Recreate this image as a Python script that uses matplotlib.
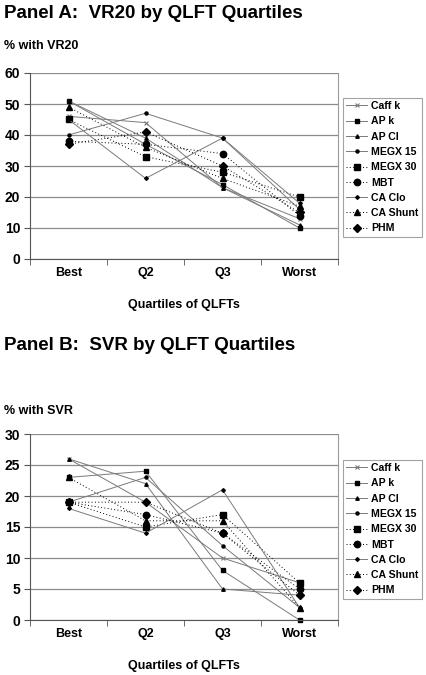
import matplotlib
matplotlib.use("Agg")
import matplotlib.pyplot as plt
from matplotlib.ticker import MultipleLocator, FixedLocator

plt.rcParams['font.family'] = ['Liberation Sans', 'DejaVu Sans']
plt.rcParams['font.weight'] = 'bold'

categories = ["Best", "Q2", "Q3", "Worst"]
series_names = ["Caff k", "AP k", "AP Cl", "MEGX 15", "MEGX 30", "MBT", "CA Clo", "CA Shunt", "PHM"]

# Panel A: % with VR20
vr20_caff_k = [46, 44, 23, 13]
vr20_ap_k = [51, 37, 24, 10]
vr20_ap_cl = [51, 39, 23, 11]
vr20_megx15 = [40, 47, 39, 16]
vr20_megx30 = [45, 33, 28, 20]
vr20_mbt = [38, 37, 34, 14]
vr20_ca_clo = [45, 26, 39, 18]
vr20_ca_shunt = [49, 36, 26, 17]
vr20_phm = [37, 41, 30, 15]

# Panel B: % with SVR
svr_caff_k = [26, 19, 10, 6]
svr_ap_k = [23, 24, 8, 0]
svr_ap_cl = [26, 22, 5, 4]
svr_megx15 = [19, 23, 12, 2]
svr_megx30 = [19, 15, 17, 6]
svr_mbt = [19, 17, 14, 5]
svr_ca_clo = [18, 14, 21, 2]
svr_ca_shunt = [23, 16, 16, 2]
svr_phm = [19, 19, 14, 4]

vr20 = [vr20_caff_k, vr20_ap_k, vr20_ap_cl, vr20_megx15, vr20_megx30,
        vr20_mbt, vr20_ca_clo, vr20_ca_shunt, vr20_phm]
svr = [svr_caff_k, svr_ap_k, svr_ap_cl, svr_megx15, svr_megx30,
       svr_mbt, svr_ca_clo, svr_ca_shunt, svr_phm]

GRAY = '#7a7a7a'
DOT = (0, (1, 2.4))
styles = [
    dict(color=GRAY, ls='-', marker='x', ms=2.8, mec=GRAY, mfc=GRAY, mew=0.8),
    dict(color=GRAY, ls='-', marker='s', ms=2.2, mec='black', mfc='black'),
    dict(color=GRAY, ls='-', marker='^', ms=2.5, mec='black', mfc='black'),
    dict(color=GRAY, ls='-', marker='o', ms=2.2, mec='black', mfc='black'),
    dict(color='black', ls=DOT, marker='s', ms=4.4, mec='black', mfc='black'),
    dict(color='black', ls=DOT, marker='o', ms=4.6, mec='black', mfc='black'),
    dict(color=GRAY, ls='-', marker='D', ms=1.9, mec='black', mfc='black'),
    dict(color='black', ls=DOT, marker='^', ms=4.6, mec='black', mfc='black'),
    dict(color='black', ls=DOT, marker='D', ms=3.6, mec='black', mfc='black'),
]

W, H = 426, 675
fig = plt.figure(figsize=(W / 100, H / 100), dpi=100)


def px_axes(left, top, right, bottom):
    return fig.add_axes([left / W, 1 - bottom / H, (right - left) / W, (bottom - top) / H])


def draw_panel(ax, data, ymax, ystep, title, title_y, ylabel, ylabel_y, xlabel_y, leg_top):
    x = list(range(len(categories)))
    handles = []
    for name, vals, st in zip(series_names, data, styles):
        h, = ax.plot(x, vals, lw=0.7, label=name, clip_on=False, **st)
        handles.append(h)
    ax.set_xlim(-0.5, 3.5)
    ax.set_ylim(0, ymax)
    ax.yaxis.set_major_locator(MultipleLocator(ystep))
    ax.grid(axis='y', color='#8c8c8c', lw=0.9)
    ax.set_axisbelow(True)
    ax.spines['top'].set_visible(False)
    ax.spines['right'].set_color('#9a9a9a')
    ax.spines['right'].set_linewidth(0.8)
    ax.spines['left'].set_color('#555555')
    ax.spines['bottom'].set_color('#555555')
    ax.spines['left'].set_linewidth(0.8)
    ax.spines['bottom'].set_linewidth(0.8)
    ax.set_xticks(x)
    ax.set_xticklabels(categories, fontsize=9, fontweight='bold')
    ax.tick_params(axis='x', which='major', length=0, pad=6)
    ax.xaxis.set_minor_locator(FixedLocator([-0.5, 0.5, 1.5, 2.5, 3.5]))
    ax.tick_params(axis='x', which='minor', length=4, direction='out', color='#555555')
    ax.tick_params(axis='y', length=4, direction='out', color='#555555', labelsize=10, pad=3)
    for lbl in ax.get_yticklabels():
        lbl.set_fontweight('bold')
    fig.text(4 / W, 1 - title_y / H, title, fontsize=13.5, fontweight='bold', va='center', ha='left')
    fig.text(4 / W, 1 - ylabel_y / H, ylabel, fontsize=9, fontweight='bold', va='center', ha='left')
    fig.text(184 / W, 1 - xlabel_y / H, "Quartiles of QLFTs", fontsize=9, fontweight='bold', va='center', ha='center')
    leg = fig.legend(handles=handles, loc='upper left', bbox_to_anchor=(343 / W, 1 - leg_top / H),
                     frameon=True, fancybox=False, edgecolor='#8c8c8c',
                     handlelength=2.0, handletextpad=0.35, labelspacing=0.5,
                     borderpad=0.3, borderaxespad=0, prop={'weight': 'bold', 'size': 7.6})
    leg.get_frame().set_linewidth(0.8)


axA = px_axes(30, 73, 338, 259)
draw_panel(axA, vr20, 60, 10, "Panel A:  VR20 by QLFT Quartiles", 13, "% with VR20", 46, 305, 98)

axB = px_axes(30, 434, 338, 620)
draw_panel(axB, svr, 30, 5, "Panel B:  SVR by QLFT Quartiles", 346, "% with SVR", 411, 666, 460)

fig.savefig("out.png", dpi=100)
